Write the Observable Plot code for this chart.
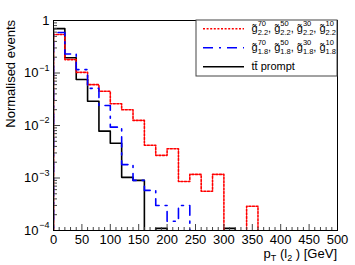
<!DOCTYPE html>
<html><head><meta charset="utf-8">
<script src="https://cdn.jsdelivr.net/npm/d3@7"></script>
<script src="https://cdn.jsdelivr.net/npm/@observablehq/plot@0.6"></script>
<style>body{margin:0;background:#fff} svg{display:block}</style>
</head><body><div id="chart"></div>
<script>
// ---- data ----
const binLow = [0,20,40,60,80,100,120,140,160,180,200,220,240,260,280,300,320,340,360,380,400,420,440,460,480];
const binWidth = 20;
const ttPrompt = [0.70,0.195,0.075,0.029,0.0078,0.0046,0.00103,0.0009,0,0.00011,0,0,0,0,0,0.00011,0,0,0,0,0,0,0,0,0];
const g22 = [0.54,0.18,0.103,0.060,0.045,0.026,0.020,0.0125,0.0042,0.0027,0.0036,0.00086,0.00117,0.00056,0.00117,0,0,0.00029,0,0,0,0,0,0,0];
const g18 = [0.59,0.23,0.116,0.051,0.024,0.0093,0.0018,0.0009,0.00058,0.0003,0.00015,0.0003,0,0,0,0,0,0,0,0,0,0,0,0,0];
const xTicks = [0,50,100,150,200,250,300,350,400,450,500];
const xMinor = [10,20,30,40,60,70,80,90,110,120,130,140,160,170,180,190,210,220,230,240,260,270,280,290,310,320,330,340,360,370,380,390,410,420,430,440,460,470,480,490];
const yTicks = [1,0.1,0.01,0.001,0.0001];
const yBase = ["1","10","10","10","10"];
const ySup = ["","\u22121","\u22122","\u22123","\u22124"];
const yMinor = [0.2,0.3,0.4,0.5,0.6,0.7,0.8,0.9,0.02,0.03,0.04,0.05,0.06,0.07,0.08,0.09,0.002,0.003,0.004,0.005,0.006,0.007,0.008,0.009,0.0002,0.0003,0.0004,0.0005,0.0006,0.0007,0.0008,0.0009];
const legendSup = ["70","50","30","10"];
const legendSub = ["2.2","1.8"];

const FONT = "'Liberation Sans', Arial, Helvetica, sans-serif";
function steps(vals){
  const FLOOR = 1e-7;
  const pts = [{x: binLow[0], y: FLOOR}];
  vals.forEach((v,i)=>{ const y = v>0 ? v : FLOOR; pts.push({x: binLow[i], y}, {x: binLow[i]+binWidth, y}); });
  pts.push({x: binLow[binLow.length-1]+binWidth, y: FLOOR});
  return pts;
}
const yRows = yTicks.map((v,i)=>({v, base: yBase[i], sup: ySup[i]}));

const plot = Plot.plot({
  width: 355, height: 265,
  marginLeft: 53, marginRight: 18, marginTop: 20, marginBottom: 35,
  style: {fontFamily: FONT, fontSize: "13px", background: "white", color: "black", overflow: "visible"},
  x: {domain: [0, 500]},
  y: {type: "log", domain: [1e-4, 1], axis: null},
  marks: [
    Plot.line(steps(ttPrompt), {x: "x", y: "y", stroke: "black", strokeWidth: 1.6, clip: true}),
    Plot.line(steps(g22), {x: "x", y: "y", stroke: "#ff0000", strokeWidth: 1.6, strokeDasharray: "2,1.6", clip: true}),
    Plot.line(steps(g18), {x: "x", y: "y", stroke: "#0000ff", strokeWidth: 1.6, strokeDasharray: "10,6,2,6", clip: true}),
    Plot.tickX(xMinor, {x: d=>d, insetTop: 207, stroke: "#444"}),
    Plot.tickX(xTicks, {x: d=>d, insetTop: 204, stroke: "#444"}),
    Plot.tickY(yMinor, {y: d=>d, insetRight: 280, stroke: "#444"}),
    Plot.tickY(yTicks, {y: d=>d, insetRight: 277, stroke: "#444"}),
    Plot.frame({stroke: "black"}),
    Plot.axisX({ticks: xTicks, tickSize: 0, tickPadding: 4, label: null, tickFormat: d=>String(d), fontSize: 13}),
    Plot.text(yRows.filter(d=>d.sup===""), {y: "v", text: "base", frameAnchor: "left", textAnchor: "end", dx: -4, fontSize: 13}),
    Plot.text(yRows.filter(d=>d.sup!==""), {y: "v", text: "base", frameAnchor: "left", textAnchor: "end", dx: -15, fontSize: 13}),
    Plot.text(yRows.filter(d=>d.sup!==""), {y: "v", text: "sup", frameAnchor: "left", textAnchor: "end", dx: -4, dy: -5, fontSize: 9})
  ]
});
document.getElementById("chart").appendChild(plot);

const svg = d3.select(plot);
// y title
svg.append("text").attr("transform","translate(15,20) rotate(-90)")
  .attr("text-anchor","end").attr("font-size",13).attr("font-family",FONT).attr("fill","black")
  .text("Normalised events");
// x title
const xt = svg.append("text").attr("x",337).attr("y",257.5).attr("text-anchor","end")
  .attr("font-size",13).attr("font-family",FONT).attr("fill","black");
xt.append("tspan").text("p");
xt.append("tspan").attr("font-size",9).attr("dy",3).text("T");
xt.append("tspan").attr("dy",-3).text(" (l");
xt.append("tspan").attr("font-size",9).attr("dy",3).text("2");
xt.append("tspan").attr("dy",-3).text(" ) [GeV]");

// legend
const lg = svg.append("g").attr("font-family",FONT).attr("fill","black").attr("text-anchor","start");
lg.append("rect").attr("x",196).attr("y",20).attr("width",141).attr("height",56)
  .attr("fill","white").attr("stroke","#444").attr("stroke-width",1);
const rows = [
  {y: 28.7, stroke: "#ff0000", dash: "2,1.6", sub: legendSub[0]},
  {y: 47.7, stroke: "#0000ff", dash: "10,6,2,6", sub: legendSub[1]},
  {y: 66.7, stroke: "black", dash: null, sub: null}
];
rows.forEach(r=>{
  const ln = lg.append("line").attr("x1",203).attr("x2",244).attr("y1",r.y).attr("y2",r.y)
    .attr("stroke",r.stroke).attr("stroke-width",1.6);
  if (r.dash) ln.attr("stroke-dasharray", r.dash);
  const base = r.y + 3.5;
  if (r.sub) {
    let x = 251.5;
    legendSup.forEach((s,i)=>{
      const t = lg.append("text").attr("x",x).attr("y",base).attr("font-size",11).text("g\u0303");
      const w = t.node().getComputedTextLength();
      const sp = lg.append("text").attr("x",x+w).attr("y",base-6.5).attr("font-size",7.5).text(s);
      const sb = lg.append("text").attr("x",x+w).attr("y",base+2.5).attr("font-size",7.5).text(r.sub);
      x += w + Math.max(sp.node().getComputedTextLength(), sb.node().getComputedTextLength());
      if (i < legendSup.length-1) {
        const c = lg.append("text").attr("x",x).attr("y",base).attr("font-size",11).text(",");
        x += c.node().getComputedTextLength() + 3;
      }
    });
  } else {
    lg.append("text").attr("x",251.5).attr("y",base).attr("font-size",11).text("tt\u0304 prompt");
  }
});
</script>
</body></html>
